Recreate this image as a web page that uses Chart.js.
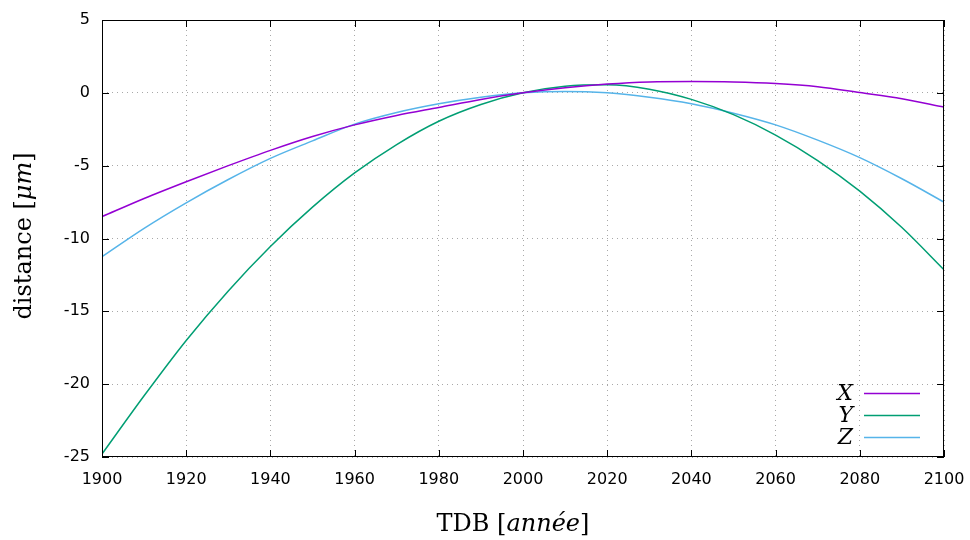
<!DOCTYPE html>
<html>
<head>
<meta charset="utf-8">
<script src="https://cdn.jsdelivr.net/npm/chart.js@4"></script>
<style>
  html, body { margin: 0; padding: 0; background: #fff; }
  #wrap { width: 970px; height: 540px; }
</style>
</head>
<body>
<div id="wrap"><canvas id="myChart" width="970" height="540"></canvas></div>
<script>
// years (TDB) and distances in micrometres
const years = [1900, 1910, 1920, 1930, 1940, 1950, 1960, 1970, 1980, 1990, 2000,
               2010, 2020, 2030, 2040, 2050, 2060, 2070, 2080, 2090, 2100];
const xVals = [-8.5, -7.25, -6.1, -5.0, -3.95, -3.0, -2.2, -1.55, -1.0, -0.45, 0,
               0.35, 0.6, 0.75, 0.78, 0.75, 0.64, 0.42, 0.02, -0.4, -0.98];
const yVals = [-24.8, -20.8, -17.0, -13.6, -10.55, -7.85, -5.5, -3.55, -1.95, -0.8, 0,
               0.45, 0.55, 0.25, -0.45, -1.5, -2.9, -4.65, -6.75, -9.25, -12.15];
const zVals = [-11.25, -9.3, -7.55, -5.95, -4.5, -3.3, -2.15, -1.35, -0.75, -0.3, 0,
               0.1, 0.0, -0.3, -0.75, -1.4, -2.2, -3.25, -4.45, -5.9, -7.5];
const seriesNames = ["X", "Y", "Z"];
const seriesColors = ["#9400d3", "#009e73", "#56b4e9"];
const xTicks = [1900, 1920, 1940, 1960, 1980, 2000, 2020, 2040, 2060, 2080, 2100];
const yTicks = [-25, -20, -15, -10, -5, 0, 5];

function pts(vals) {
  return years.map((yr, i) => ({ x: yr, y: vals[i] }));
}

const serif = "'DejaVu Serif', 'Liberation Serif', serif";

// draw plain/italic pieces one after another, centred on cx
function mixedText(ctx, parts, size, cx, cy) {
  let total = 0;
  const widths = parts.map((p) => {
    ctx.font = (p[1] ? "italic " : "") + size + "px " + serif;
    const w = ctx.measureText(p[0]).width;
    total += w;
    return w;
  });
  let x = cx - total / 2;
  parts.forEach((p, i) => {
    ctx.font = (p[1] ? "italic " : "") + size + "px " + serif;
    ctx.fillText(p[0], x, cy);
    x += widths[i];
  });
}

// border, inward ticks, axis titles and legend in gnuplot style
const gnuplotLook = {
  id: "gnuplotLook",
  afterDraw(chart) {
    const ctx = chart.ctx;
    const a = chart.chartArea;
    const xs = chart.scales.x;
    const ys = chart.scales.y;
    ctx.save();
    ctx.strokeStyle = "#000";
    ctx.lineWidth = 1;
    ctx.strokeRect(a.left + 0.5, a.top + 0.5, a.right - a.left - 1, a.bottom - a.top - 1);
    ctx.beginPath();
    xTicks.forEach((t) => {
      const px = Math.round(xs.getPixelForValue(t)) + 0.5;
      ctx.moveTo(px, a.bottom); ctx.lineTo(px, a.bottom - 7);
      ctx.moveTo(px, a.top); ctx.lineTo(px, a.top + 7);
    });
    yTicks.forEach((t) => {
      const py = Math.round(ys.getPixelForValue(t)) + 0.5;
      ctx.moveTo(a.left, py); ctx.lineTo(a.left + 7, py);
      ctx.moveTo(a.right, py); ctx.lineTo(a.right - 7, py);
    });
    ctx.stroke();

    ctx.fillStyle = "#000";
    ctx.textAlign = "left";
    ctx.textBaseline = "alphabetic";
    mixedText(ctx, [["TDB [", false], ["année", true], ["]", false]], 24, 513, 531);

    ctx.save();
    ctx.translate(31, 236);
    ctx.rotate(-Math.PI / 2);
    mixedText(ctx, [["distance [", false], ["μm", true], ["]", false]], 24, 0, 0);
    ctx.restore();

    // legend
    ctx.font = "italic 22px " + serif;
    ctx.textAlign = "right";
    ctx.textBaseline = "middle";
    seriesNames.forEach((name, i) => {
      const ly = 393 + i * 22;
      ctx.fillStyle = "#000";
      ctx.fillText(name, 853, ly + 1);
      ctx.strokeStyle = seriesColors[i];
      ctx.lineWidth = 1.5;
      ctx.beginPath();
      ctx.moveTo(864, ly + 0.5); ctx.lineTo(920, ly + 0.5);
      ctx.stroke();
    });
    ctx.restore();
  }
};

const ctx = document.getElementById("myChart").getContext("2d");
const myChart = new Chart(ctx, {
  type: "line",
  data: {
    datasets: [
      { label: seriesNames[0], data: pts(xVals), borderColor: seriesColors[0] },
      { label: seriesNames[1], data: pts(yVals), borderColor: seriesColors[1] },
      { label: seriesNames[2], data: pts(zVals), borderColor: seriesColors[2] },
    ].map((d) => Object.assign(d, { borderWidth: 1.5, pointRadius: 0, cubicInterpolationMode: "monotone", fill: false })),
  },
  options: {
    responsive: false,
    animation: false,
    layout: { padding: { left: 0, right: 26, top: 20, bottom: 0 } },
    plugins: { legend: { display: false }, tooltip: { enabled: false } },
    scales: {
      x: {
        type: "linear",
        min: 1900,
        max: 2100,
        afterBuildTicks: (s) => { s.ticks = xTicks.map((v) => ({ value: v })); },
        afterFit: (s) => { s.height = 83; s.paddingLeft = 0; s.paddingRight = 0; },
        border: { display: false, dash: [1, 4] },
        grid: { color: "#a8a8a8", lineWidth: 1, drawTicks: false },
        ticks: { color: "#000", padding: 13, maxRotation: 0, callback: (v) => String(v),
                 font: { family: "'DejaVu Sans'", size: 16 } },
      },
      y: {
        min: -25,
        max: 5,
        afterBuildTicks: (s) => { s.ticks = yTicks.map((v) => ({ value: v })); },
        afterFit: (s) => { s.width = 102; s.paddingTop = 0; s.paddingBottom = 0; },
        border: { display: false, dash: [1, 4] },
        grid: { color: "#a8a8a8", lineWidth: 1, drawTicks: false },
        ticks: { color: "#000", padding: 12, callback: (v) => String(v),
                 font: { family: "'DejaVu Sans'", size: 16 } },
      },
    },
  },
  plugins: [gnuplotLook],
});
</script>
</body>
</html>
